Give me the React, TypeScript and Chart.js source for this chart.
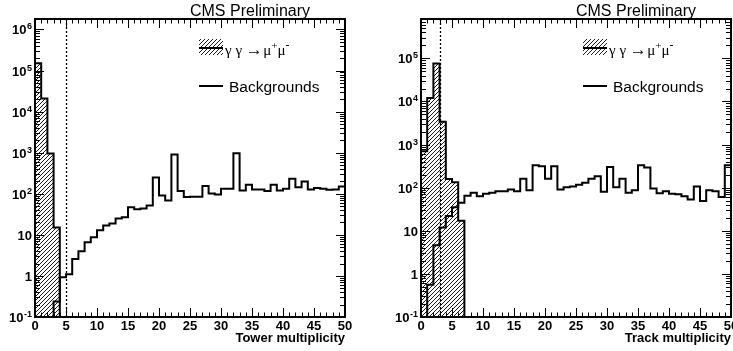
import React, { useEffect, useRef } from 'react';
import { Chart, registerables } from 'chart.js';

Chart.register(...registerables);

// ---------- data (bin width 1, bin index = lower edge) ----------
const xMin = 0;
const xMax = 50;

const towerSignalStart = 0;
const towerSignal = [150000, 21000, 950, 15];
const towerBkgStart = 3;
const towerBkg = [
  0.24, 0.93, 1.1, 2.6, 4, 6.6, 8.7, 13, 17, 19, 25, 27, 47, 42, 44, 52, 250, 91, 69, 910,
  117, 83, 85, 85, 155, 102, 96, 133, 133, 970, 120, 166, 128, 128, 117, 166, 120, 133, 232, 145,
  200, 128, 138, 133, 125, 128, 150,
];

const trackSignalStart = 0;
const trackSignal = [700, 12000, 76000, 3400, 160, 134, 17];
const trackBkgStart = 1;
const trackBkg = [
  0.56, 4.6, 12, 22, 35, 45, 65, 76, 63, 72, 76, 83, 83, 91, 83, 162, 87, 330, 316, 162,
  316, 91, 103, 107, 117, 130, 162, 185, 80, 303, 103, 162, 76, 87, 330, 295, 96, 74, 83, 72,
  70, 63, 53, 107, 49, 87, 83, 61, 330,
];

const towerYRange = [0.1, 1.8e6];
const trackYRange = [0.1, 8.2e5];
const towerCut = 5;
const trackCut = 3;
const towerTitle = 'Tower multiplicity';
const trackTitle = 'Track multiplicity';
const headerText = 'CMS Preliminary';
const signalLabel = ['γ γ ', '→', 'μ', '+', 'μ', '-'];
const bkgLabel = 'Backgrounds';
const xMajorStep = 5;

const SANS = '"Liberation Sans", Arial, Helvetica, sans-serif';
const SERIF = '"Liberation Serif", "DejaVu Serif", serif';

function histPoints(values: number[], start: number, floor: number, dropEnd: boolean) {
  const pts: { x: number; y: number }[] = [{ x: start, y: floor }];
  values.forEach((v, i) => pts.push({ x: start + i, y: v }));
  const end = start + values.length;
  pts.push({ x: end, y: values[values.length - 1] });
  if (dropEnd) pts.push({ x: end, y: floor });
  return pts;
}

function makePattern(): CanvasPattern | string {
  const c = document.createElement('canvas');
  const s = 4;
  c.width = s;
  c.height = s;
  const g = c.getContext('2d');
  if (!g) return '#888';
  g.strokeStyle = '#000';
  g.lineWidth = 0.9;
  for (const o of [-s, 0, s]) {
    g.beginPath();
    g.moveTo(o, s);
    g.lineTo(o + s, 0);
    g.stroke();
  }
  const p = g.createPattern(c, 'repeat');
  return p || '#888';
}

type PanelCfg = {
  cut: number;
  title: string;
  legendX: number;
  yMin: number;
  yMax: number;
  pattern: CanvasPattern | string;
};

function overlayPlugin(cfg: PanelCfg) {
  return {
    id: 'rootStyle',
    afterDraw(chart: any) {
      const ctx: CanvasRenderingContext2D = chart.ctx;
      const ca = chart.chartArea;
      const xs = chart.scales.x;
      const ys = chart.scales.y;
      ctx.save();

      // dotted cut line
      const cx = Math.round(xs.getPixelForValue(cfg.cut)) + 0.5;
      ctx.strokeStyle = '#000';
      ctx.lineWidth = 1.3;
      ctx.setLineDash([2, 2]);
      ctx.beginPath();
      ctx.moveTo(cx, ca.top);
      ctx.lineTo(cx, ca.bottom);
      ctx.stroke();
      ctx.setLineDash([]);

      // ticks
      ctx.lineWidth = 1;
      ctx.beginPath();
      for (let v = xMin; v <= xMax; v++) {
        const px = Math.round(xs.getPixelForValue(v)) + 0.5;
        const len = v % xMajorStep === 0 ? 9 : 4.5;
        ctx.moveTo(px, ca.bottom);
        ctx.lineTo(px, ca.bottom - len);
        ctx.moveTo(px, ca.top);
        ctx.lineTo(px, ca.top + len);
      }
      const eMin = Math.floor(Math.log10(cfg.yMin));
      const eMax = Math.floor(Math.log10(cfg.yMax));
      for (let e = eMin; e <= eMax; e++) {
        for (let m = 1; m <= 9; m++) {
          const val = m * Math.pow(10, e);
          if (val < cfg.yMin * 0.999 || val > cfg.yMax) continue;
          const py = Math.round(ys.getPixelForValue(val)) + 0.5;
          const len = m === 1 ? 9 : 5;
          ctx.moveTo(ca.left, py);
          ctx.lineTo(ca.left + len, py);
          ctx.moveTo(ca.right, py);
          ctx.lineTo(ca.right - len, py);
        }
      }
      ctx.stroke();

      // frame
      ctx.lineWidth = 2;
      ctx.strokeRect(ca.left, ca.top, ca.right - ca.left, ca.bottom - ca.top);

      // x labels
      ctx.fillStyle = '#000';
      ctx.font = `bold 13px ${SANS}`;
      ctx.textAlign = 'center';
      ctx.textBaseline = 'alphabetic';
      for (let v = xMin; v <= xMax; v += xMajorStep) {
        ctx.fillText(String(v), xs.getPixelForValue(v), 330);
      }

      // y labels
      const rightX = ca.left - 3;
      for (let e = eMin; e <= eMax; e++) {
        const val = Math.pow(10, e);
        if (val < cfg.yMin * 0.999 || val > cfg.yMax) continue;
        const py = ys.getPixelForValue(val);
        ctx.textAlign = 'left';
        if (e === 0 || e === 1) {
          ctx.font = `bold 13px ${SANS}`;
          const t = e === 0 ? '1' : '10';
          const w = ctx.measureText(t).width;
          ctx.fillText(t, rightX - w, py + 5);
        } else {
          ctx.font = `bold 9px ${SANS}`;
          const ex = String(e);
          const we = ctx.measureText(ex).width;
          ctx.font = `bold 13px ${SANS}`;
          const wb = ctx.measureText('10').width;
          const x0 = rightX - we - wb - 0.5;
          ctx.fillText('10', x0, py + 5);
          ctx.font = `bold 9px ${SANS}`;
          ctx.fillText(ex, x0 + wb + 0.5, py);
        }
      }

      // axis title
      ctx.font = `bold 13px ${SANS}`;
      ctx.textAlign = 'right';
      ctx.fillText(cfg.title, ca.right, 342);

      // header
      ctx.font = `16px ${SANS}`;
      ctx.textAlign = 'right';
      ctx.fillText(headerText, ca.right - 35, 16);

      // legend
      const lx = cfg.legendX;
      ctx.fillStyle = cfg.pattern as any;
      ctx.fillRect(lx, 39, 24, 16);
      ctx.strokeStyle = '#000';
      ctx.lineWidth = 2;
      ctx.beginPath();
      ctx.moveTo(lx, 48);
      ctx.lineTo(lx + 24, 48);
      ctx.moveTo(lx, 86);
      ctx.lineTo(lx + 24, 86);
      ctx.stroke();

      ctx.fillStyle = '#000';
      ctx.textAlign = 'left';
      let tx = lx + 26;
      const base = 55;
      ctx.font = `15px ${SERIF}`;
      ctx.fillText(signalLabel[0], tx, base);
      tx += ctx.measureText(signalLabel[0]).width;
      ctx.font = `17px ${SANS}`;
      ctx.fillText(signalLabel[1], tx, base - 0.5);
      tx += ctx.measureText(signalLabel[1]).width + 0.5;
      ctx.font = `15px ${SERIF}`;
      ctx.fillText(signalLabel[2], tx, base);
      tx += ctx.measureText(signalLabel[2]).width;
      ctx.font = `11px ${SERIF}`;
      ctx.fillText(signalLabel[3], tx, base - 6);
      tx += ctx.measureText(signalLabel[3]).width;
      ctx.font = `15px ${SERIF}`;
      ctx.fillText(signalLabel[4], tx, base);
      tx += ctx.measureText(signalLabel[4]).width;
      ctx.font = `12px ${SERIF}`;
      ctx.fillText(signalLabel[5], tx, base - 6);

      ctx.font = `15.5px ${SANS}`;
      ctx.fillText(bkgLabel, lx + 30, 91.5);

      ctx.restore();
    },
  };
}

function buildChart(
  canvas: HTMLCanvasElement,
  sig: { x: number; y: number }[],
  bkg: { x: number; y: number }[],
  yMin: number,
  yMax: number,
  padding: { left: number; right: number; top: number; bottom: number },
  cfg: PanelCfg
) {
  return new Chart(canvas, {
    type: 'line',
    data: {
      datasets: [
        {
          label: bkgLabel,
          data: bkg,
          stepped: true,
          borderColor: '#000',
          borderWidth: 2,
          borderJoinStyle: 'miter',
          pointRadius: 0,
          fill: false,
          order: 0,
        } as any,
        {
          label: 'signal',
          data: sig,
          stepped: true,
          borderColor: '#000',
          borderWidth: 2,
          borderJoinStyle: 'miter',
          pointRadius: 0,
          fill: 'start',
          backgroundColor: cfg.pattern,
          order: 1,
        } as any,
      ],
    },
    options: {
      animation: false,
      responsive: false,
      events: [],
      layout: { padding },
      scales: {
        x: { type: 'linear', min: xMin, max: xMax, display: false },
        y: { type: 'logarithmic', min: yMin, max: yMax, display: false },
      },
      plugins: { legend: { display: false }, tooltip: { enabled: false } },
    } as any,
    plugins: [overlayPlugin(cfg)],
  });
}

export default function App() {
  const leftRef = useRef<HTMLCanvasElement>(null);
  const rightRef = useRef<HTMLCanvasElement>(null);

  useEffect(() => {
    if (!leftRef.current || !rightRef.current) return;
    const pattern = makePattern();
    const c1 = buildChart(
      leftRef.current,
      histPoints(towerSignal, towerSignalStart, towerYRange[0], true),
      histPoints(towerBkg, towerBkgStart, towerYRange[0], false),
      towerYRange[0],
      towerYRange[1],
      { left: 35, right: 21, top: 19, bottom: 34 },
      { cut: towerCut, title: towerTitle, legendX: 199, yMin: towerYRange[0], yMax: towerYRange[1], pattern }
    );
    const c2 = buildChart(
      rightRef.current,
      histPoints(trackSignal, trackSignalStart, trackYRange[0], true),
      histPoints(trackBkg, trackBkgStart, trackYRange[0], false),
      trackYRange[0],
      trackYRange[1],
      { left: 55, right: 2, top: 19, bottom: 34 },
      { cut: trackCut, title: trackTitle, legendX: 583 - 366, yMin: trackYRange[0], yMax: trackYRange[1], pattern }
    );
    return () => {
      c1.destroy();
      c2.destroy();
    };
  }, []);

  return (
    <div style={{ position: 'absolute', left: 0, top: 0, width: 733, height: 351, background: '#fff', overflow: 'hidden' }}>
      <canvas ref={leftRef} width={366} height={351} style={{ position: 'absolute', left: 0, top: 0 }} />
      <canvas ref={rightRef} width={367} height={351} style={{ position: 'absolute', left: 366, top: 0 }} />
    </div>
  );
}
